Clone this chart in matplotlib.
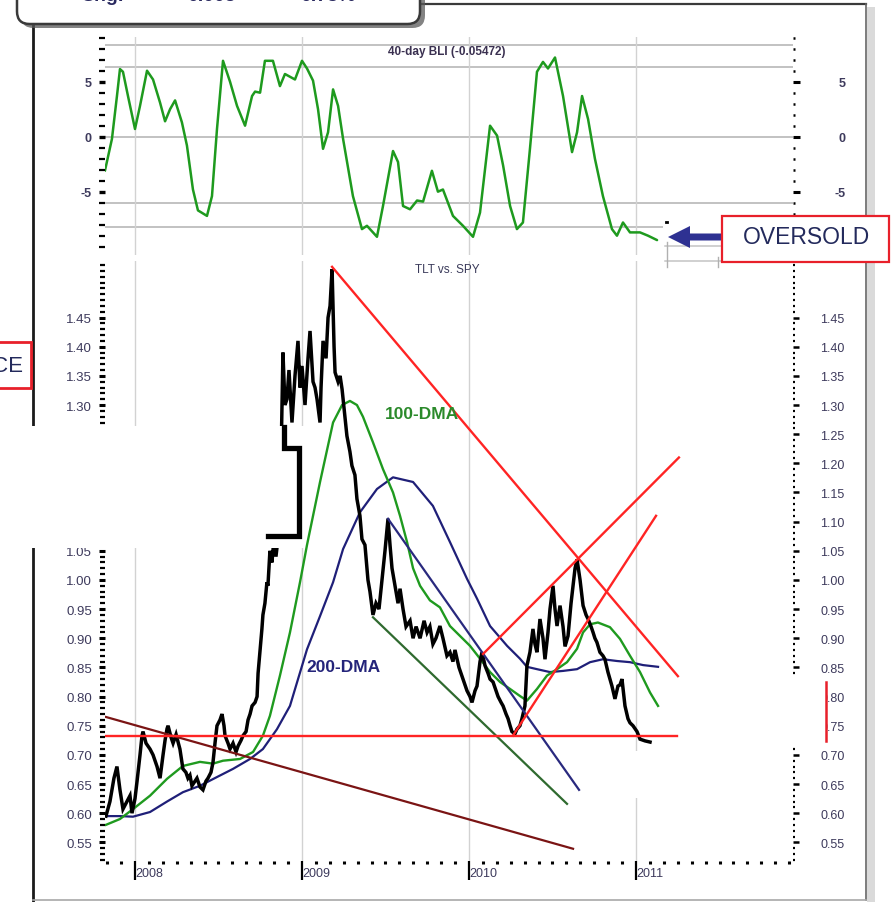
import matplotlib
matplotlib.use("Agg")
import numpy as np
import matplotlib.pyplot as plt
from matplotlib.patches import Rectangle, FancyBboxPatch, Polygon
from matplotlib.lines import Line2D
from matplotlib.ticker import FixedLocator, MultipleLocator, FuncFormatter

plt.rcParams["font.family"] = ["Liberation Sans", "DejaVu Sans"]

W, H = 894, 903

# ---------------- data ----------------
years = [2008, 2009, 2010, 2011]
year_labels = ["2008", "2009", "2010", "2011"]

# 40-day BLI oscillator
bli_t = [2007.820, 2007.862, 2007.892, 2007.910, 2007.928, 2007.958, 2008.000, 2008.030, 2008.072, 2008.108,
         2008.150, 2008.180, 2008.210, 2008.240, 2008.281, 2008.311, 2008.347, 2008.377, 2008.431, 2008.461,
         2008.491, 2008.527, 2008.569, 2008.611, 2008.659, 2008.701, 2008.719, 2008.749, 2008.778, 2008.826,
         2008.868, 2008.898, 2008.958, 2009.000, 2009.030, 2009.066, 2009.096, 2009.126, 2009.156, 2009.186,
         2009.216, 2009.246, 2009.305, 2009.359, 2009.389, 2009.449, 2009.485, 2009.545, 2009.575, 2009.605,
         2009.647, 2009.689, 2009.725, 2009.778, 2009.814, 2009.844, 2009.904, 2009.964, 2010.024, 2010.066,
         2010.126, 2010.168, 2010.204, 2010.246, 2010.287, 2010.323, 2010.365, 2010.407, 2010.443, 2010.473,
         2010.515, 2010.563, 2010.617, 2010.647, 2010.677, 2010.713, 2010.754, 2010.802, 2010.856, 2010.886,
         2010.922, 2010.964, 2011.024, 2011.072, 2011.126]
bli_v = [-3.1, -0.2, 3.7, 6.15, 5.9, 3.7, 0.7, 2.8, 6.0, 5.2,
         3.1, 1.4, 2.5, 3.3, 1.3, -0.8, -4.8, -6.7, -7.2, -5.4,
         0.7, 6.9, 5.0, 2.8, 1.0, 3.7, 4.1, 4.0, 6.9, 6.9,
         4.6, 5.7, 5.2, 6.9, 6.2, 5.1, 2.5, -1.1, 0.4, 4.3,
         2.8, -0.2, -5.4, -8.4, -8.1, -9.1, -6.3, -1.3, -2.3, -6.3,
         -6.6, -5.8, -5.9, -3.1, -5.0, -4.8, -7.2, -8.1, -9.1, -6.9,
         1.0, 0.1, -2.6, -6.3, -8.4, -7.8, -1.1, 5.9, 6.8, 6.2,
         7.2, 3.7, -1.4, 0.4, 3.7, 1.6, -2.0, -5.4, -8.4, -9.0,
         -7.8, -8.7, -8.7, -9.0, -9.4]
bli_guides = [8.34, 6.34, 0.0, -6.03, -8.2]

# TLT / SPY ratio
ratio_t = [2007.826, 2007.850, 2007.874, 2007.892, 2007.910, 2007.928, 2007.952, 2007.970, 2007.982, 2008.000,
           2008.012, 2008.030, 2008.042, 2008.048, 2008.066, 2008.090, 2008.108, 2008.132, 2008.150, 2008.168,
           2008.180, 2008.192, 2008.198, 2008.216, 2008.228, 2008.246, 2008.269, 2008.287, 2008.305, 2008.317,
           2008.329, 2008.341, 2008.359, 2008.371, 2008.389, 2008.407, 2008.425, 2008.437, 2008.455, 2008.467,
           2008.479, 2008.491, 2008.509, 2008.521, 2008.533, 2008.539, 2008.557, 2008.569, 2008.587, 2008.605,
           2008.617, 2008.635, 2008.647, 2008.665, 2008.677, 2008.689, 2008.701, 2008.719, 2008.731, 2008.737,
           2008.749, 2008.760, 2008.766, 2008.778, 2008.790, 2008.796, 2008.808, 2008.820, 2008.832, 2008.844,
           2008.856, 2008.874, 2008.886, 2008.898, 2008.910, 2008.922, 2008.940, 2008.958, 2008.976, 2008.988,
           2009.000, 2009.018, 2009.036, 2009.048, 2009.060, 2009.066, 2009.078, 2009.090, 2009.108, 2009.114,
           2009.126, 2009.144, 2009.156, 2009.168, 2009.180, 2009.192, 2009.198, 2009.216, 2009.228, 2009.240,
           2009.257, 2009.269, 2009.287, 2009.299, 2009.317, 2009.329, 2009.347, 2009.359, 2009.377, 2009.395,
           2009.407, 2009.425, 2009.443, 2009.461, 2009.479, 2009.497, 2009.515, 2009.527, 2009.539, 2009.557,
           2009.575, 2009.587, 2009.605, 2009.623, 2009.647, 2009.665, 2009.683, 2009.707, 2009.731, 2009.749,
           2009.766, 2009.784, 2009.802, 2009.826, 2009.844, 2009.868, 2009.886, 2009.904, 2009.916, 2009.940,
           2009.964, 2009.988, 2010.006, 2010.018, 2010.036, 2010.048, 2010.066, 2010.078, 2010.096, 2010.114,
           2010.126, 2010.144, 2010.162, 2010.174, 2010.192, 2010.204, 2010.222, 2010.234, 2010.246, 2010.257,
           2010.275, 2010.287, 2010.305, 2010.317, 2010.335, 2010.347, 2010.365, 2010.383, 2010.395, 2010.407,
           2010.425, 2010.443, 2010.455, 2010.473, 2010.485, 2010.503, 2010.515, 2010.527, 2010.545, 2010.563,
           2010.575, 2010.593, 2010.611, 2010.623, 2010.635, 2010.647, 2010.665, 2010.683, 2010.701, 2010.713,
           2010.731, 2010.743, 2010.754, 2010.766, 2010.784, 2010.802, 2010.814, 2010.832, 2010.844, 2010.856,
           2010.874, 2010.892, 2010.904, 2010.916, 2010.928, 2010.934, 2010.952, 2010.964, 2010.982, 2011.006,
           2011.024, 2011.054, 2011.084]
ratio_v = [0.595, 0.62, 0.66, 0.68, 0.64, 0.607, 0.62, 0.63, 0.60, 0.625,
           0.654, 0.70, 0.733, 0.74, 0.72, 0.71, 0.70, 0.68, 0.66, 0.70,
           0.725, 0.745, 0.75, 0.73, 0.72, 0.735, 0.71, 0.676, 0.67, 0.66,
           0.665, 0.647, 0.655, 0.66, 0.645, 0.64, 0.655, 0.66, 0.67, 0.687,
           0.72, 0.75, 0.76, 0.77, 0.75, 0.733, 0.72, 0.71, 0.72, 0.705,
           0.715, 0.725, 0.733, 0.74, 0.76, 0.77, 0.784, 0.79, 0.80, 0.84,
           0.88, 0.916, 0.94, 0.96, 0.996, 0.99, 1.05, 1.03, 1.07, 1.04,
           1.07, 1.20, 1.39, 1.30, 1.31, 1.36, 1.27, 1.35, 1.41, 1.33,
           1.367, 1.30, 1.38, 1.427, 1.37, 1.34, 1.33, 1.31, 1.27, 1.33,
           1.41, 1.38, 1.45, 1.47, 1.533, 1.40, 1.356, 1.34, 1.35, 1.327,
           1.28, 1.247, 1.22, 1.196, 1.18, 1.139, 1.11, 1.07, 1.06, 1.0,
           0.98, 0.94, 0.96, 0.95, 1.0, 1.05, 1.105, 1.06, 1.02, 0.99,
           0.96, 0.985, 0.95, 0.92, 0.93, 0.90, 0.92, 0.90, 0.93, 0.91,
           0.92, 0.89, 0.90, 0.921, 0.90, 0.87, 0.876, 0.86, 0.88, 0.85,
           0.83, 0.81, 0.80, 0.79, 0.81, 0.818, 0.86, 0.876, 0.853, 0.84,
           0.83, 0.825, 0.81, 0.80, 0.79, 0.784, 0.77, 0.762, 0.75, 0.74,
           0.736, 0.744, 0.75, 0.762, 0.784, 0.853, 0.876, 0.916, 0.89, 0.876,
           0.933, 0.90, 0.864, 0.91, 0.95, 0.99, 0.95, 0.921, 0.956, 0.92,
           0.886, 0.904, 0.96, 0.99, 1.02, 1.035, 1.0, 0.956, 0.94, 0.933,
           0.92, 0.91, 0.90, 0.893, 0.876, 0.87, 0.864, 0.842, 0.83, 0.818,
           0.796, 0.818, 0.82, 0.83, 0.80, 0.784, 0.762, 0.755, 0.75, 0.74,
           0.727, 0.724, 0.722]

# moving averages
dma100_t = [2007.826, 2007.910, 2007.988, 2008.090, 2008.192, 2008.287, 2008.389, 2008.467, 2008.527, 2008.629,
            2008.707, 2008.766, 2008.808, 2008.868, 2008.928, 2008.988, 2009.030, 2009.108, 2009.186, 2009.240,
            2009.287, 2009.329, 2009.365, 2009.425, 2009.485, 2009.545, 2009.587, 2009.629, 2009.665, 2009.707,
            2009.766, 2009.826, 2009.886, 2009.946, 2010.006, 2010.066, 2010.126, 2010.186, 2010.246, 2010.305,
            2010.347, 2010.407, 2010.467, 2010.527, 2010.587, 2010.647, 2010.683, 2010.725, 2010.772, 2010.844,
            2010.904, 2010.964, 2011.024, 2011.084, 2011.132]
dma100_v = [0.58, 0.59, 0.607, 0.63, 0.659, 0.681, 0.688, 0.685, 0.69, 0.693,
            0.705, 0.733, 0.767, 0.836, 0.91, 0.996, 1.06, 1.168, 1.27, 1.30,
            1.307, 1.30, 1.28, 1.236, 1.19, 1.15, 1.11, 1.065, 1.02, 0.99,
            0.965, 0.953, 0.921, 0.904, 0.887, 0.865, 0.842, 0.825, 0.813, 0.801,
            0.793, 0.813, 0.836, 0.847, 0.859, 0.882, 0.91, 0.924, 0.927, 0.919,
            0.899, 0.87, 0.842, 0.807, 0.784]

dma200_t = [2007.826, 2007.910, 2007.988, 2008.090, 2008.192, 2008.287, 2008.389, 2008.491, 2008.587, 2008.689,
            2008.766, 2008.850, 2008.928, 2008.970, 2009.030, 2009.108, 2009.186, 2009.246, 2009.347, 2009.449,
            2009.545, 2009.665, 2009.784, 2009.886, 2009.988, 2010.048, 2010.126, 2010.228, 2010.305, 2010.347,
            2010.407, 2010.485, 2010.563, 2010.647, 2010.725, 2010.802, 2010.886, 2010.964, 2011.042, 2011.132]
dma200_v = [0.595, 0.595, 0.594, 0.602, 0.62, 0.636, 0.647, 0.662, 0.676, 0.693,
            0.71, 0.744, 0.784, 0.824, 0.881, 0.938, 0.996, 1.053, 1.116, 1.156,
            1.176, 1.168, 1.127, 1.065, 1.002, 0.968, 0.921, 0.887, 0.865, 0.851,
            0.847, 0.842, 0.844, 0.847, 0.859, 0.864, 0.861, 0.859, 0.854, 0.851]

# hand-drawn trend lines (start, end)
support_t, support_v = [2007.820, 2011.246], [0.733, 0.733]
falling_t, falling_v = [2007.826, 2010.623], [0.765, 0.539]
peak_line_t, peak_line_v = [2009.180, 2011.251], [1.537, 0.835]
rise_a_t, rise_a_v = [2010.084, 2011.257], [0.873, 1.21]
rise_b_t, rise_b_v = [2010.263, 2011.120], [0.733, 1.11]
chan_low_t, chan_low_v = [2009.425, 2010.587], [0.936, 0.616]
chan_high_t, chan_high_v = [2009.515, 2010.659], [1.105, 0.64]

# heavy step stroke over the masked band
step_t = [2008.796, 2008.982, 2008.982, 2008.892, 2008.892]
step_v = [1.075, 1.075, 1.226, 1.226, 1.262]

main_ticks = [round(0.55 + 0.05 * i, 2) for i in range(19)]

# ---------------- helpers ----------------
def fx(px):
    return px / W

def fy(py):
    return 1 - py / H

LABEL_C = "#3d3a5c"
TAG_C = "#232a5c"
XLIM = (2007.8204, 2011.9401)

fig = plt.figure(figsize=(W / 100, H / 100), dpi=100)
fig.patch.set_facecolor("white")

# ---------------- oscillator panel ----------------
ax_b = fig.add_axes([fx(105), fy(256), (793 - 105) / W, (256 - 38) / H])
ax_b.set_xlim(*XLIM)
ax_b.set_ylim(-10.755, 9.064)
for s in ax_b.spines.values():
    s.set_visible(False)
for g in bli_guides:
    ax_b.axhline(g, color="#bdbdbd", lw=1.3, zorder=1)
for y in years:
    ax_b.axvline(y, color="#d2d2d2", lw=1.0, zorder=1)
ax_b.plot(bli_t, bli_v, color="#1e9a1e", lw=1.8, zorder=3,
          solid_joinstyle="round", solid_capstyle="round")
ax_b.text(2009.868, 7.8, "40-day BLI (-0.05472)", ha="center", va="center",
          fontsize=8.5, fontweight="bold", color="#3a3050", zorder=4)
ax_b.tick_params(axis="x", which="both", bottom=False, labelbottom=False)
ax_b.yaxis.set_major_locator(FixedLocator([-5, 0, 5]))
ax_b.yaxis.set_minor_locator(MultipleLocator(1))
ax_b.yaxis.set_major_formatter(FuncFormatter(lambda v, p: f"{v:.0f}"))
ax_b.tick_params(axis="y", which="major", direction="out", length=4.5, width=2.4,
                 labelsize=9, labelcolor=LABEL_C, pad=5)
ax_b.tick_params(axis="y", which="minor", direction="out", length=4, width=1.6)
for lbl in ax_b.get_yticklabels():
    lbl.set_fontweight("bold")

ax_br = ax_b.twinx()
ax_br.set_ylim(ax_b.get_ylim())
for s in ax_br.spines.values():
    s.set_visible(False)
ax_br.yaxis.set_major_locator(FixedLocator([-5, 0, 5]))
ax_br.yaxis.set_minor_locator(MultipleLocator(1))
ax_br.yaxis.set_major_formatter(FuncFormatter(lambda v, p: f"{v:.0f}"))
ax_br.tick_params(axis="y", which="major", direction="out", length=5, width=2.2,
                  labelsize=9, labelcolor=LABEL_C, pad=33)
ax_br.tick_params(axis="y", which="minor", direction="out", length=1.5, width=1.8)
for lbl in ax_br.get_yticklabels():
    lbl.set_fontweight("bold")
    lbl.set_horizontalalignment("right")

# ---------------- ratio panel ----------------
ax = fig.add_axes([fx(105), fy(862), (793 - 105) / W, 600 / H])
ax.set_xlim(*XLIM)
ax.set_ylim(0.518, 1.547)
for s in ax.spines.values():
    s.set_visible(False)
for y in years:
    ax.axvline(y, color="#d2d2d2", lw=1.0, zorder=1)

ax.plot(dma200_t, dma200_v, color="#1f1f78", lw=1.6, zorder=3)
ax.plot(dma100_t, dma100_v, color="#1f9a1f", lw=1.7, zorder=3)
ax.plot(ratio_t, ratio_v, color="black", lw=2.5, zorder=4, solid_joinstyle="miter")

ax.plot(falling_t, falling_v, color="#7a1414", lw=1.6, zorder=5)
ax.plot(chan_low_t, chan_low_v, color="#2f6a2f", lw=1.6, zorder=5)
ax.plot(chan_high_t, chan_high_v, color="#29297e", lw=1.6, zorder=5)
for tt, vv in [(support_t, support_v), (peak_line_t, peak_line_v),
               (rise_a_t, rise_a_v), (rise_b_t, rise_b_v)]:
    ax.plot(tt, vv, color="#ff2424", lw=1.7, zorder=6)

ax.text(2009.868, 1.533, "TLT vs. SPY", ha="center", va="center",
        fontsize=8.5, color="#3a3a5a", zorder=7)
ax.text(2009.719, 1.285, "100-DMA", ha="center", va="center", fontsize=12.5,
        fontweight="bold", color="#2b8a2b", zorder=7)
ax.text(2009.246, 0.851, "200-DMA", ha="center", va="center", fontsize=12.5,
        fontweight="bold", color="#24247a", zorder=7)

ax.yaxis.set_major_locator(FixedLocator(main_ticks))
ax.yaxis.set_minor_locator(MultipleLocator(0.01))
ax.yaxis.set_major_formatter(FuncFormatter(lambda v, p: f"{v:.2f}"))
ax.tick_params(axis="y", which="major", direction="out", length=4.5, width=2.2,
               labelsize=9.5, labelcolor=LABEL_C, pad=5)
ax.tick_params(axis="y", which="minor", direction="out", length=3.5, width=1.6)

ax.xaxis.set_major_locator(FixedLocator(years))
ax.xaxis.set_minor_locator(MultipleLocator(1 / 12))
ax.set_xticklabels(year_labels)
ax.tick_params(axis="x", which="major", direction="out", length=14, width=1.6,
               labelsize=9, labelcolor=LABEL_C, pad=-10)
ax.tick_params(axis="x", which="minor", direction="out", length=1.8, width=2.2)
for lbl in ax.get_xticklabels():
    lbl.set_horizontalalignment("left")

ax_r = ax.twinx()
ax_r.set_ylim(ax.get_ylim())
for s in ax_r.spines.values():
    s.set_visible(False)
ax_r.yaxis.set_major_locator(FixedLocator(main_ticks))
ax_r.yaxis.set_minor_locator(MultipleLocator(0.01))
ax_r.yaxis.set_major_formatter(FuncFormatter(lambda v, p: f"{v:.2f}"))
ax_r.tick_params(axis="y", which="major", direction="out", length=4, width=1.8,
                 labelsize=9, labelcolor=LABEL_C, pad=33)
ax_r.tick_params(axis="y", which="minor", direction="out", length=1.5, width=1.6)
for lbl in ax_r.get_yticklabels():
    lbl.set_horizontalalignment("right")

# ---------------- masking panel and heavy stroke ----------------
fig.add_artist(Rectangle((0, fy(549)), fx(305), (549 - 427) / H,
                         transform=fig.transFigure, facecolor="white",
                         edgecolor="none", zorder=1))
ax_s = fig.add_axes(ax.get_position(), zorder=3)
ax_s.set_xlim(*XLIM)
ax_s.set_ylim(ax.get_ylim())
ax_s.patch.set_visible(False)
ax_s.axis("off")
ax_s.plot(step_t, step_v, color="black", lw=3.8, solid_joinstyle="miter")

# ---------------- frame ----------------
def fline(xs, ys, **kw):
    fig.add_artist(Line2D([fx(x) for x in xs], [fy(y) for y in ys],
                          transform=fig.transFigure, **kw))

fline([33, 33], [26, 903], color="#1a1a1a", lw=2.0, zorder=0.5)
fline([420, 866], [5, 5], color="#3a3a3a", lw=1.6, zorder=0.5)
fline([866, 866], [5, 901], color="#666666", lw=1.2, zorder=0.5)
fline([33, 866], [901, 901], color="#a8a8a8", lw=1.2, zorder=0.5)
fig.add_artist(Rectangle((fx(867), fy(903)), fx(8), (903 - 8) / H,
                         transform=fig.transFigure, facecolor="#dadada",
                         edgecolor="none", zorder=0.5))

# gap in the 2011 grid line
fig.add_artist(Rectangle((fx(633), fy(799)), fx(7), 47 / H, transform=fig.transFigure,
                         facecolor="white", edgecolor="none", zorder=1))

# quote box at the top
fig.add_artist(FancyBboxPatch((fx(21), fy(29)), fx(404), 70 / H,
                              boxstyle="round,pad=0,rounding_size=0.014",
                              transform=fig.transFigure, facecolor="#5a5a5a",
                              edgecolor="none", alpha=0.75, zorder=3))
fig.add_artist(FancyBboxPatch((fx(17), fy(25)), fx(403), 70 / H,
                              boxstyle="round,pad=0,rounding_size=0.014",
                              transform=fig.transFigure, facecolor="white",
                              edgecolor="#3a3a3a", lw=1.8, zorder=3.1))
for x0, s in [(80, "Chg."), (187, "0.005"), (300, "0.73%")]:
    fig.text(fx(x0), fy(1), s, fontsize=14, fontweight="bold", color="#2a2a60",
             va="baseline", zorder=3.2)

# PRICE tag on the left
fig.add_artist(Rectangle((fx(-60), fy(389)), fx(91), 46 / H, transform=fig.transFigure,
                         facecolor="white", edgecolor="#e8202a", lw=2.0, zorder=4))
fig.text(fx(23), fy(366), "PRICE", ha="right", va="center", fontsize=16,
         color=TAG_C, zorder=5)

# cut-out with the arrow and the OVERSOLD tag
fig.add_artist(Rectangle((fx(663), fy(266)), fx(59), 51 / H, transform=fig.transFigure,
                         facecolor="white", edgecolor="none", zorder=1))
fline([665, 722], [247, 247], color="#c4c4c4", lw=1.1, zorder=1.5)
fline([665, 722], [262, 262], color="#c4c4c4", lw=1.1, zorder=1.5)
fline([667, 667], [243, 268], color="#b0b0b0", lw=1.0, zorder=1.5)
fline([718, 718], [258, 268], color="#b0b0b0", lw=1.0, zorder=1.5)
fline([665.5, 666.5], [223, 223], color="black", lw=2.0, zorder=1.5)
arrow = Polygon([(fx(668), fy(238)), (fx(690), fy(227)), (fx(690), fy(234.5)),
                 (fx(724), fy(234.5)), (fx(724), fy(241.5)), (fx(690), fy(241.5)),
                 (fx(690), fy(249))], closed=True, transform=fig.transFigure,
                facecolor="#2e3192", edgecolor="none", zorder=4)
fig.add_artist(arrow)
fig.add_artist(Rectangle((fx(722), fy(263)), fx(167), 46 / H, transform=fig.transFigure,
                         facecolor="white", edgecolor="#e8202a", lw=1.6, zorder=4))
fig.text(fx(806), fy(238), "OVERSOLD", ha="center", va="center", fontsize=16.5,
         color=TAG_C, zorder=5)

# right-hand tag edge over the 0.80 / 0.75 labels
fig.add_artist(Rectangle((fx(784), fy(746)), fx(42), 70 / H, transform=fig.transFigure,
                         facecolor="white", edgecolor="none", zorder=1))
fline([826, 826], [683, 742], color="#e8202a", lw=1.8, zorder=4)

fig.savefig("out.png", dpi=100, facecolor="white")
